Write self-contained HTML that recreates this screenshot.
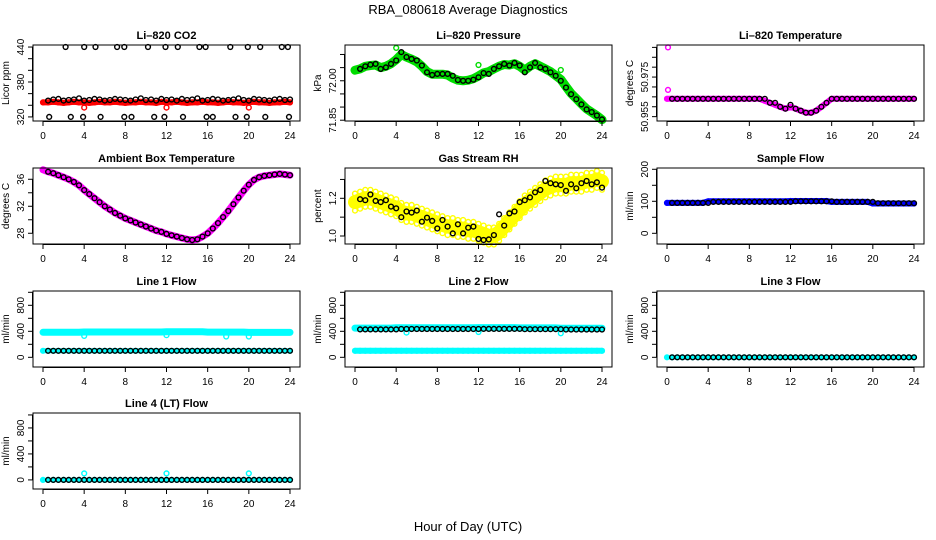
<!DOCTYPE html>
<html><head><meta charset="utf-8"><style>
html,body{margin:0;padding:0;background:#fff;}
svg{display:block;font-family:"Liberation Sans",sans-serif;}
</style></head><body>
<svg id="chart" width="936" height="540" viewBox="0 0 936 540" xmlns="http://www.w3.org/2000/svg">
<rect width="936" height="540" fill="#fff"/>
<text x="468" y="14" text-anchor="middle" font-size="13">RBA_080618  Average Diagnostics</text>
<text x="468" y="531" text-anchor="middle" font-size="13">Hour of Day (UTC)</text>
</svg>
<script>
const hoursBlack = [0.5,1,1.5,2,2.5,3,3.5,4,4.5,5,5.5,6,6.5,7,7.5,8,8.5,9,9.5,10,10.5,11,11.5,12,12.5,13,13.5,14,14.5,15,15.5,16,16.5,17,17.5,18,18.5,19,19.5,20,20.5,21,21.5,22,22.5,23,23.5,24];
const hoursColor = [0,0.5,1,1.5,2,2.5,3,3.5,4,4.5,5,5.5,6,6.5,7,7.5,8,8.5,9,9.5,10,10.5,11,11.5,12,12.5,13,13.5,14,14.5,15,15.5,16,16.5,17,17.5,18,18.5,19,19.5,20,20.5,21,21.5,22,22.5,23,23.5,24];
const xTicks = [0,4,8,12,16,20,24];

// CO2
const co2Black = [348,350,351,348,349,350,352,348,349,351,350,348,349,351,350,349,348,350,352,349,350,348,351,349,350,348,351,349,350,352,348,349,351,350,348,349,350,352,349,348,351,350,349,348,350,351,349,350];
const co2Red = [345,345,346,345,344,345,346,345,345,344,345,346,345,345,346,345,344,345,345,346,345,345,344,346,345,345,346,345,344,345,345,346,345,345,344,345,346,345,345,344,345,346,345,345,344,345,345,346,345];
const co2HighHours = [2.2,4.0,5.1,7.2,7.9,10.2,11.9,13.1,15.2,15.8,18.2,19.9,21.1,23.2,23.8];
const co2HighValues = [440,440,440,440,440,440,440,440,440,440,440,440,440,440,440];
const co2LowHours = [0.6,2.7,3.9,5.6,7.9,8.6,10.8,11.8,13.6,15.9,16.5,18.7,19.8,21.6,23.9];
const co2LowValues = [320,320,320,320,320,320,320,320,320,320,320,320,320,320,320];
const co2RedOutHours = [4,12,20];
const co2RedOutValues = [336,336,336];

// Pressure
const presBlack = [72.045,72.055,72.061,72.064,72.045,72.051,72.064,72.077,72.109,72.090,72.083,72.077,72.058,72.032,72.022,72.026,72.026,72.026,72.019,72.003,72.000,72.000,72.004,72.013,72.029,72.026,72.045,72.055,72.064,72.058,72.068,72.058,72.032,72.051,72.068,72.051,72.045,72.032,72.019,72.000,71.974,71.949,71.930,71.910,71.891,71.881,71.868,71.853];
const presGreen = [72.040,72.045,72.055,72.058,72.060,72.050,72.055,72.065,72.080,72.100,72.090,72.082,72.072,72.055,72.035,72.025,72.025,72.025,72.022,72.010,72.002,72.000,72.002,72.008,72.018,72.030,72.035,72.045,72.055,72.062,72.060,72.065,72.055,72.040,72.055,72.065,72.055,72.045,72.035,72.020,72.005,71.978,71.952,71.932,71.912,71.893,71.880,71.867,71.852];
const presOutHours = [4,12,20];
const presOutValues = [72.125,72.060,72.041];

// Li-820 temperature
const tempBlack = [50.964,50.964,50.964,50.964,50.964,50.964,50.964,50.964,50.964,50.964,50.964,50.964,50.964,50.964,50.964,50.964,50.964,50.964,50.964,50.962,50.962,50.960,50.959,50.961,50.959,50.958,50.957,50.957,50.958,50.960,50.962,50.964,50.964,50.964,50.964,50.964,50.964,50.964,50.964,50.964,50.964,50.964,50.964,50.964,50.964,50.964,50.964,50.964];
const tempMagenta = [50.964,50.964,50.964,50.964,50.964,50.964,50.964,50.964,50.964,50.964,50.964,50.964,50.964,50.964,50.964,50.964,50.964,50.964,50.964,50.963,50.962,50.961,50.960,50.959,50.960,50.959,50.958,50.957,50.957,50.958,50.960,50.962,50.964,50.964,50.964,50.964,50.964,50.964,50.964,50.964,50.964,50.964,50.964,50.964,50.964,50.964,50.964,50.964,50.964];
const tempOutHours = [0.1,0.1];
const tempOutValues = [50.990,50.9685];

// Ambient box temperature
const ambBlack = [37.1,36.9,36.6,36.3,36.0,35.6,35.1,34.4,33.8,33.2,32.6,32.0,31.5,31.0,30.6,30.2,29.9,29.6,29.3,29.0,28.7,28.4,28.2,27.9,27.7,27.5,27.3,27.1,27.0,27.1,27.5,28.0,28.7,29.5,30.4,31.3,32.3,33.3,34.3,35.2,35.9,36.3,36.5,36.6,36.7,36.8,36.7,36.6];
const ambMagenta = [37.4,37.1,36.9,36.6,36.3,36.0,35.6,35.1,34.4,33.8,33.2,32.6,32.0,31.5,31.0,30.6,30.2,29.9,29.6,29.3,29.0,28.7,28.4,28.2,27.9,27.7,27.5,27.3,27.1,27.0,27.1,27.5,28.0,28.7,29.5,30.4,31.3,32.3,33.3,34.3,35.2,35.9,36.3,36.5,36.6,36.7,36.8,36.7,36.6];

// Gas stream RH
const rhBlack = [1.195,1.19,1.22,1.186,1.18,1.19,1.156,1.147,1.10,1.13,1.124,1.135,1.076,1.097,1.08,1.04,1.085,1.05,1.014,1.062,1.014,1.044,1.05,0.984,0.979,0.982,1.005,1.115,1.055,1.12,1.13,1.18,1.19,1.205,1.232,1.244,1.292,1.28,1.274,1.27,1.24,1.274,1.253,1.28,1.292,1.274,1.285,1.257];
const rhYellow = [1.18,1.19,1.20,1.20,1.19,1.18,1.17,1.16,1.15,1.13,1.12,1.12,1.11,1.10,1.09,1.08,1.07,1.06,1.05,1.05,1.04,1.04,1.03,1.03,1.02,1.01,1.00,1.00,1.02,1.05,1.08,1.11,1.14,1.17,1.19,1.21,1.23,1.25,1.26,1.27,1.27,1.27,1.28,1.28,1.28,1.29,1.29,1.30,1.29];

// Sample flow
const sampleBlack = [95,95,95,95,95,95,95,95,98,98,98,98,98,98,98,98,98,98,98,98,98,98,98,98,100,100,100,100,100,100,100,100,98,98,98,98,98,98,98,98,94,94,94,94,94,94,94,94];
const sampleBlue = [95,95,95,95,95,95,95,95,100,100,100,100,100,100,100,100,100,100,100,100,100,100,100,100,101,101,101,101,101,101,101,101,98,98,98,98,98,98,98,98,93,93,93,93,93,93,93,93,93];

// Line flows
const line1Black = [100,100,100,100,100,100,100,100,100,100,100,100,100,100,100,100,100,100,100,100,100,100,100,100,100,100,100,100,100,100,100,100,100,100,100,100,100,100,100,100,100,100,100,100,100,100,100,100];
const line1CyanHigh = [385,385,385,385,385,385,385,385,390,390,390,390,390,390,390,390,390,390,390,390,390,390,390,390,392,392,392,392,392,392,392,392,388,388,388,388,388,388,388,388,383,383,383,383,383,383,383,383,383];
const line1CyanLow = [100,100,100,100,100,100,100,100,100,100,100,100,100,100,100,100,100,100,100,100,100,100,100,100,100,100,100,100,100,100,100,100,100,100,100,100,100,100,100,100,100,100,100,100,100,100,100,100,100];
const line1OutHours = [4,12,17.8,20];
const line1OutValues = [330,340,320,320];
const line2Black = [430,430,430,430,430,430,430,430,435,435,435,435,435,435,435,435,435,435,435,435,435,435,435,435,437,437,437,437,437,437,437,437,432,432,432,432,432,432,432,432,428,428,428,428,428,428,428,428];
const line2CyanHigh = [450,450,450,450,450,450,450,450,455,455,455,455,455,455,455,455,455,455,455,455,455,455,455,455,457,457,457,457,457,457,457,457,452,452,452,452,452,452,452,452,448,448,448,448,448,448,448,448,448];
const line2CyanLow = [100,100,100,100,100,100,100,100,100,100,100,100,100,100,100,100,100,100,100,100,100,100,100,100,100,100,100,100,100,100,100,100,100,100,100,100,100,100,100,100,100,100,100,100,100,100,100,100,100];
const line2OutHours = [5,12,20];
const line2OutValues = [380,390,370];
const line3Black = [0,0,0,0,0,0,0,0,0,0,0,0,0,0,0,0,0,0,0,0,0,0,0,0,0,0,0,0,0,0,0,0,0,0,0,0,0,0,0,0,0,0,0,0,0,0,0,0];
const line3Cyan = [0,0,0,0,0,0,0,0,0,0,0,0,0,0,0,0,0,0,0,0,0,0,0,0,0,0,0,0,0,0,0,0,0,0,0,0,0,0,0,0,0,0,0,0,0,0,0,0,0];
const line4Black = [0,0,0,0,0,0,0,0,0,0,0,0,0,0,0,0,0,0,0,0,0,0,0,0,0,0,0,0,0,0,0,0,0,0,0,0,0,0,0,0,0,0,0,0,0,0,0,0];
const line4Cyan = [0,0,0,0,0,0,0,0,0,0,0,0,0,0,0,0,0,0,0,0,0,0,0,0,0,0,0,0,0,0,0,0,0,0,0,0,0,0,0,0,0,0,0,0,0,0,0,0,0];
const line4OutHours = [4,12,20];
const line4OutValues = [100,100,100];

const flowTicks = [0,200,400,600,800,1000];
const flowLabels = [0,400,800];

const NS = "http://www.w3.org/2000/svg";
const svg = document.getElementById('chart');
const colX0 = [43,355,667];
const rowBottom = [121,244,367,489];

function mk(tag, attrs, parent) {
  const e = document.createElementNS(NS, tag);
  for (const k in attrs) e.setAttribute(k, attrs[k]);
  (parent || svg).appendChild(e);
  return e;
}

function panel(p) {
  const g = mk('g', {});
  
  
  const x0 = colX0[p.col], bot = rowBottom[p.row], top = bot - 76;
  const left = x0 - 10, right = x0 + 257;
  const xs = h => x0 + h * 247 / 24;
  const ys = v => bot - (v - p.ylo) / (p.yhi - p.ylo) * 76;
  p.series.forEach(s => {
    const sg = mk('g', {}, g);
    
    
    if (s.band) {
      const pts = s.hours.map((h, i) => xs(h).toFixed(1) + ',' + ys(s.values[i]).toFixed(1)).join(' ');
      mk('polyline', {points: pts, fill: 'none', stroke: s.color, 'stroke-width': s.band, 'stroke-linejoin': 'round', 'stroke-linecap': 'round'}, sg);
    }
    const offs = s.spread ? [-s.spread, 0, s.spread] : [0];
    s.hours.forEach((h, i) => {
      offs.forEach(o => {
        const c = mk('circle', {cx: xs(h).toFixed(1), cy: ys(s.values[i] + o).toFixed(1), r: s.r || 2.4, fill: 'none', stroke: s.color, 'stroke-width': s.sw || 1.4}, sg);
        
        
      });
    });
  });
  const box = mk('rect', {x: left, y: top, width: right - left, height: 76, fill: 'none', stroke: '#000', 'stroke-width': 1}, g);
  
  
  const t = mk('text', {x: (left + right) / 2, y: top - 6, 'text-anchor': 'middle', 'font-size': 11, 'font-weight': 'bold'}, g);
  t.textContent = p.title;
  
  
  const xa = mk('g', {}, g);
  
  
  mk('line', {x1: xs(0), x2: xs(24), y1: bot + 0.5, y2: bot + 0.5, stroke: '#000'}, xa);
  xTicks.forEach(h => {
    mk('line', {x1: xs(h), x2: xs(h), y1: bot, y2: bot + 5, stroke: '#000'}, xa);
    const l = mk('text', {x: xs(h), y: bot + 18, 'text-anchor': 'middle', 'font-size': 10}, xa);
    l.textContent = h;
    
    
  });
  const ya = mk('g', {}, g);
  
  
  mk('line', {x1: left - 0.5, x2: left - 0.5, y1: ys(p.yTicks[0]), y2: ys(p.yTicks[p.yTicks.length - 1]), stroke: '#000'}, ya);
  p.yTicks.forEach(v => {
    mk('line', {x1: left - 5, x2: left, y1: ys(v), y2: ys(v), stroke: '#000'}, ya);
  });
  p.yLabels.forEach((v, i) => {
    const txt = p.yLabelText ? p.yLabelText[i] : String(v);
    const yy = ys(v), xx = left - 9;
    const l = mk('text', {x: xx, y: yy, 'text-anchor': 'middle', 'font-size': 10, transform: 'rotate(-90 ' + xx + ' ' + yy + ')'}, ya);
    l.textContent = txt;
    
    
  });
  const yt = mk('text', {x: left - 24, y: top + 38, 'text-anchor': 'middle', 'font-size': 10, transform: 'rotate(-90 ' + (left - 24) + ' ' + (top + 38) + ')'}, g);
  yt.textContent = p.yTitle;
  
  
}

const BLK = '#000';
panel({name:'co2', title:'Li\u2013820 CO2', col:0, row:0, ylo:313, yhi:443.5, yTitle:'Licor ppm',
  yTicks:[320,340,360,380,400,420,440], yLabels:[320,380,440],
  series:[
    {name:'co2-raw', color:'#ff0000', hours:hoursColor, values:co2Red, band:6},
    {name:'co2-raw-outliers', color:'#ff0000', hours:co2RedOutHours, values:co2RedOutValues},
    {name:'co2-average', color:BLK, hours:hoursBlack, values:co2Black},
    {name:'co2-average-high', color:BLK, hours:co2HighHours, values:co2HighValues},
    {name:'co2-average-low', color:BLK, hours:co2LowHours, values:co2LowValues}
  ]});
panel({name:'pressure', title:'Li\u2013820 Pressure', col:1, row:0, ylo:71.847, yhi:72.136, yTitle:'kPa',
  yTicks:[71.85,71.90,71.95,72.00,72.05,72.10], yLabels:[71.85,72.00], yLabelText:['71.85','72.00'],
  series:[
    {name:'pressure-raw', color:'#00dd00', hours:hoursColor, values:presGreen, band:9},
    {name:'pressure-raw-outliers', color:'#00dd00', hours:presOutHours, values:presOutValues},
    {name:'pressure-average', color:BLK, hours:hoursBlack, values:presBlack}
  ]});
panel({name:'li820-temperature', title:'Li\u2013820 Temperature', col:2, row:0, ylo:50.9528, yhi:50.9912, yTitle:'degrees C',
  yTicks:[50.955,50.960,50.965,50.970,50.975,50.980,50.985,50.990], yLabels:[50.955,50.975], yLabelText:['50.955','50.975'],
  series:[
    {name:'li820-temperature-raw', color:'#ff00ff', hours:hoursColor, values:tempMagenta, band:6},
    {name:'li820-temperature-outliers', color:'#ff00ff', hours:tempOutHours, values:tempOutValues},
    {name:'li820-temperature-average', color:BLK, hours:hoursBlack, values:tempBlack}
  ]});
panel({name:'ambient-temperature', title:'Ambient Box Temperature', col:0, row:1, ylo:26.41, yhi:37.67, yTitle:'degrees C',
  yTicks:[28,30,32,34,36], yLabels:[28,32,36],
  series:[
    {name:'ambient-temperature-raw', color:'#ff00ff', hours:hoursColor, values:ambMagenta, band:7},
    {name:'ambient-temperature-average', color:BLK, hours:hoursBlack, values:ambBlack}
  ]});
panel({name:'rh', title:'Gas Stream RH', col:1, row:1, ylo:0.9576, yhi:1.3607, yTitle:'percent',
  yTicks:[1.0,1.1,1.2,1.3], yLabels:[1.0,1.2], yLabelText:['1.0','1.2'],
  series:[
    {name:'rh-raw', color:'#ffff00', hours:hoursColor, values:rhYellow, band:14, spread:0.045},
    {name:'rh-average', color:BLK, hours:hoursBlack, values:rhBlack}
  ]});
panel({name:'sample-flow', title:'Sample Flow', col:2, row:1, ylo:-33.4, yhi:204, yTitle:'ml/min',
  yTicks:[0,50,100,150,200], yLabels:[0,100,200],
  series:[
    {name:'sample-flow-raw', color:'#0000ff', hours:hoursColor, values:sampleBlue, band:6},
    {name:'sample-flow-average', color:BLK, hours:hoursBlack, values:sampleBlack}
  ]});
panel({name:'line1-flow', title:'Line 1 Flow', col:0, row:2, ylo:-149, yhi:1020, yTitle:'ml/min',
  yTicks:flowTicks, yLabels:flowLabels,
  series:[
    {name:'line1-raw-high', color:'#00ffff', hours:hoursColor, values:line1CyanHigh, band:7},
    {name:'line1-raw-low', color:'#00ffff', hours:hoursColor, values:line1CyanLow, band:5},
    {name:'line1-raw-outliers', color:'#00ffff', hours:line1OutHours, values:line1OutValues},
    {name:'line1-average', color:BLK, hours:hoursBlack, values:line1Black}
  ]});
panel({name:'line2-flow', title:'Line 2 Flow', col:1, row:2, ylo:-149, yhi:1020, yTitle:'ml/min',
  yTicks:flowTicks, yLabels:flowLabels,
  series:[
    {name:'line2-raw-high', color:'#00ffff', hours:hoursColor, values:line2CyanHigh, band:7},
    {name:'line2-raw-low', color:'#00ffff', hours:hoursColor, values:line2CyanLow, band:6},
    {name:'line2-raw-outliers', color:'#00ffff', hours:line2OutHours, values:line2OutValues},
    {name:'line2-average', color:BLK, hours:hoursBlack, values:line2Black}
  ]});
panel({name:'line3-flow', title:'Line 3 Flow', col:2, row:2, ylo:-149, yhi:1020, yTitle:'ml/min',
  yTicks:flowTicks, yLabels:flowLabels,
  series:[
    {name:'line3-raw', color:'#00ffff', hours:hoursColor, values:line3Cyan, band:4},
    {name:'line3-average', color:BLK, hours:hoursBlack, values:line3Black}
  ]});
panel({name:'line4-flow', title:'Line 4 (LT) Flow', col:0, row:3, ylo:-140, yhi:1030, yTitle:'ml/min',
  yTicks:flowTicks, yLabels:flowLabels,
  series:[
    {name:'line4-raw', color:'#00ffff', hours:hoursColor, values:line4Cyan, band:4},
    {name:'line4-raw-outliers', color:'#00ffff', hours:line4OutHours, values:line4OutValues},
    {name:'line4-average', color:BLK, hours:hoursBlack, values:line4Black}
  ]});
</script>
</body></html>
